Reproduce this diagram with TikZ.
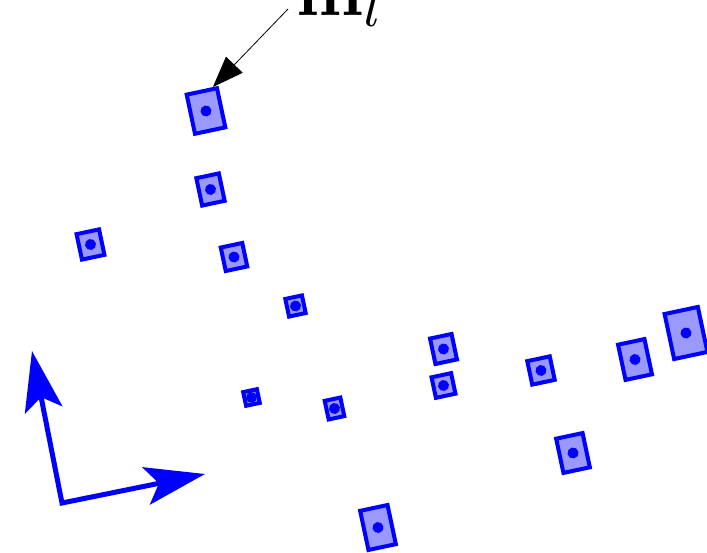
\documentclass[tikz,border=0pt]{standalone}
\usepackage{amsmath}
\usepackage{tikz}
\usetikzlibrary{arrows.meta}
\colorlet{tilecol}{blue!40}
\tikzset{tile/.style 2 args = {draw=blue,fill=tilecol,line width=4pt,rotate=12,inner sep=0pt,
            minimum width=#1pt,minimum height=#2pt,
            path picture={\fill[blue] (path picture bounding box.center) circle (5.5pt);}}}
\tikzset{axis/.style = {blue,line width=5pt,>={Stealth[length=60pt,width=38pt,inset=13pt]},<->}}
\tikzset{pointer/.style = {-{Triangle[length=31pt,width=23pt]},line width=0.8pt}}

\begin{document}
\begin{tikzpicture}[x=1pt,y=-1pt]
                    \useasboundingbox (0,0) rectangle (707,553);

                    \node[tile={31}{40}] (t1) at (206,111) {};
                    \node[tile={23}{28}] (t2) at (210.5,189.5) {};
                    \node[tile={23}{26}] (t3) at (90.5,244.5) {};
                    \node[tile={22}{24}] (t4) at (234,257) {};
                    \node[tile={17}{18}] (t5) at (295.5,306) {};
                    \node[tile={14}{14}] (t6) at (251.5,397.5) {};
                    \node[tile={16}{19}] (t7) at (334.5,408.5) {};
                    \node[tile={28}{40}] (t8) at (378,527.5) {};
                    \node[tile={22}{26}] (t9) at (443.5,349) {};
                    \node[tile={20}{21}] (t10) at (443.5,385.5) {};
                    \node[tile={23}{24}] (t11) at (541,370.5) {};
                    \node[tile={27}{36}] (t12) at (635,359.5) {};
                    \node[tile={34}{46}] (t13) at (686,333) {};
                    \node[tile={27}{35}] (t14) at (573,453) {};

                    \node[scale=7,anchor=base west,inner sep=0pt] (ml) at (295,16) {$\mathbf{m}_l$};
                    \coordinate (mtail) at (288,9);
                    \draw[pointer] (mtail) -- (t1.62);

                    \coordinate (o) at (62,503);
                    \coordinate (ex) at (205,474);
                    \coordinate (ey) at (32,351);
                    \draw[axis] (ey) -- (o) -- (ex);
                \end{tikzpicture}
\end{document}
